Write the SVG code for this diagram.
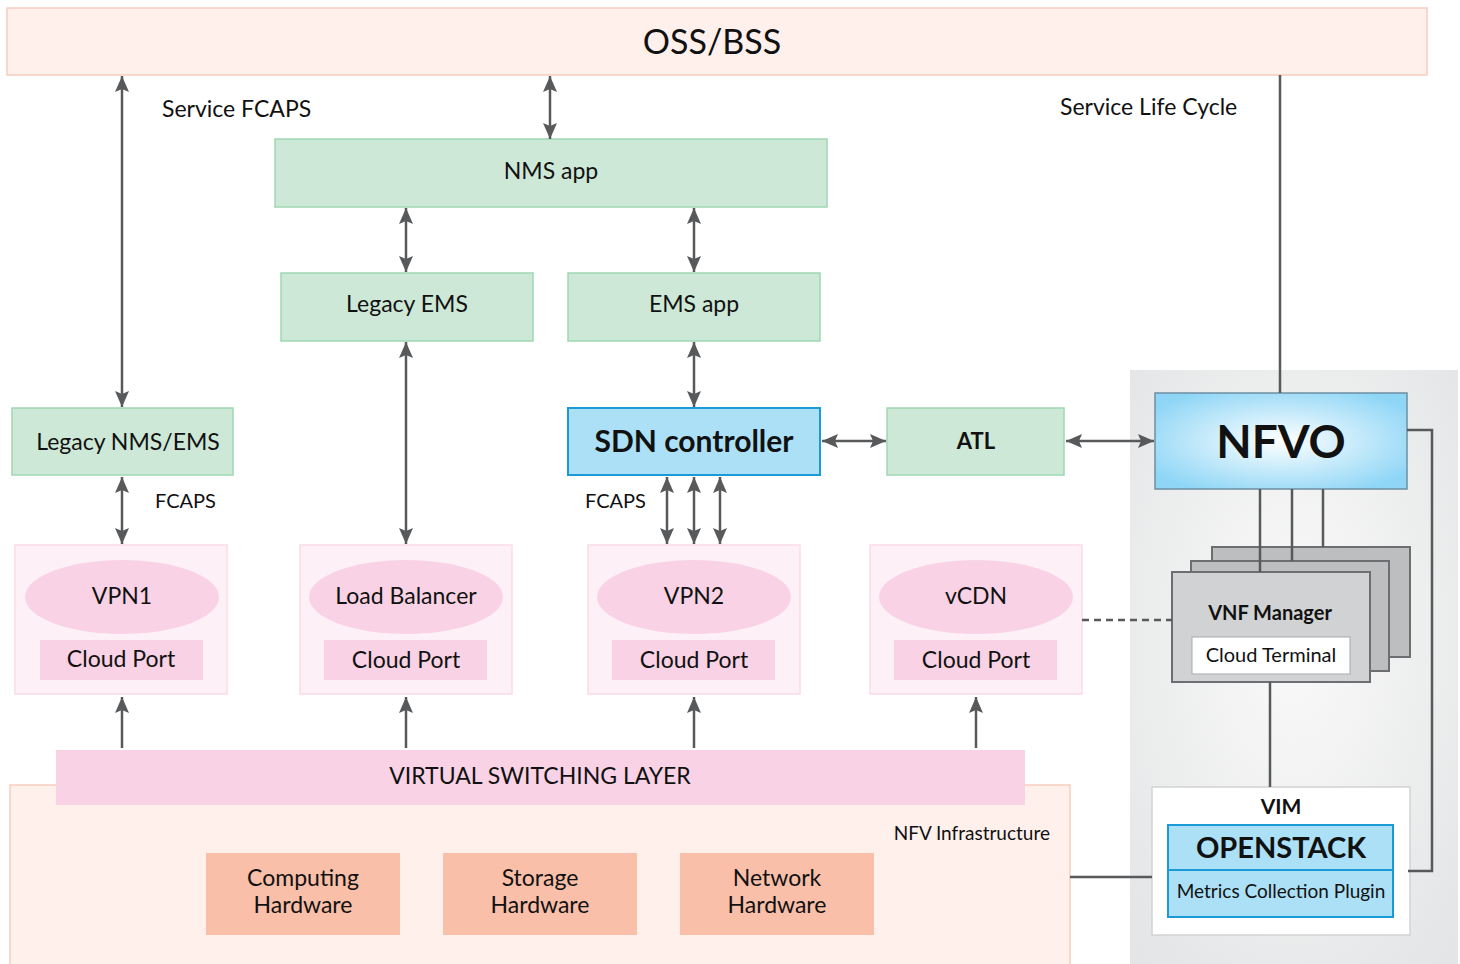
<svg xmlns="http://www.w3.org/2000/svg" width="1460" height="964" viewBox="0 0 1460 964">
<defs>
<marker id="ah" viewBox="0 0 16 14" refX="16" refY="7" markerWidth="16" markerHeight="14" markerUnits="userSpaceOnUse" orient="auto-start-reverse">
<path d="M0,0 L16,7 L0,14 L3,7 z" fill="#58595b"/>
</marker>
<radialGradient id="gpanel" cx="0.5" cy="0.45" r="0.7">
<stop offset="0" stop-color="#fafafa"/>
<stop offset="1" stop-color="#e4e5e6"/>
</radialGradient>
<radialGradient id="gnfvo" cx="0.5" cy="0.5" r="0.6">
<stop offset="0" stop-color="#ffffff"/>
<stop offset="1" stop-color="#8fd6f6"/>
</radialGradient>
</defs>
<style>
text{font-family:Lato,"Open Sans","Liberation Sans",sans-serif;fill:#111;text-anchor:middle;dominant-baseline:central;transform:translateY(-2px)}
.salmon{fill:#fff0ec;stroke:#f9cdbf;stroke-width:1.5}
.green{fill:#cde8d6;stroke:#9fd8b2;stroke-width:1.5}
.blue{fill:#abe0f7;stroke:#1b9ad8;stroke-width:2}
.pinkbox{fill:#fdf0f6;stroke:#fbdbe9;stroke-width:1.5}
.pink{fill:#f9d3e5}
.hw{fill:#fabfa9}
.gray{stroke:#6d6e71;stroke-width:2}
.ln{stroke:#58595b;stroke-width:2.5;fill:none}
.t24{font-size:23px}
.b{font-weight:bold}
</style>
<rect x="1130" y="370" width="328" height="594" fill="url(#gpanel)"/>
<g id="oss"><rect class="salmon" x="7" y="8" width="1420" height="67"/><text x="712" y="42" font-size="34">OSS/BSS</text></g>
<g id="nfvi"><rect class="salmon" x="10" y="785" width="1060" height="185"/><text x="1050" y="834" font-size="19" style="text-anchor:end">NFV Infrastructure</text></g>
<g id="vsl"><rect class="pink" x="56" y="750" width="969" height="55"/><text class="t24" x="540" y="777">VIRTUAL SWITCHING LAYER</text></g>
<g id="computing"><rect class="hw" x="206" y="853" width="194" height="82"/><text class="t24" x="303" y="879">Computing</text><text class="t24" x="303" y="906">Hardware</text></g>
<g id="storage"><rect class="hw" x="443" y="853" width="194" height="82"/><text class="t24" x="540" y="879">Storage</text><text class="t24" x="540" y="906">Hardware</text></g>
<g id="network"><rect class="hw" x="680" y="853" width="194" height="82"/><text class="t24" x="777" y="879">Network</text><text class="t24" x="777" y="906">Hardware</text></g>
<g id="nms"><rect class="green" x="275" y="139" width="552" height="68"/><text class="t24" x="551" y="172">NMS app</text></g>
<g id="legacyems"><rect class="green" x="281" y="273" width="252" height="68"/><text class="t24" x="407" y="305">Legacy EMS</text></g>
<g id="emsapp"><rect class="green" x="568" y="273" width="252" height="68"/><text class="t24" x="694" y="305">EMS app</text></g>
<g id="legacynms"><rect class="green" x="12" y="408" width="221" height="67"/><text class="t24" x="128" y="443">Legacy NMS/EMS</text></g>
<g id="sdn"><rect class="blue" x="568" y="408" width="252" height="67"/><text class="b" x="694" y="442" font-size="30">SDN controller</text></g>
<g id="atl"><rect class="green" x="887" y="408" width="177" height="67"/><text class="b" x="976" y="442" font-size="22">ATL</text></g>
<g id="nfvo"><rect x="1155" y="393" width="252" height="96" fill="url(#gnfvo)" stroke="#6d8fa3" stroke-width="1.5"/><text class="b" x="1281" y="442" font-size="46">NFVO</text></g>
<g id="vpn1"><rect class="pinkbox" x="15" y="545" width="212" height="149"/><ellipse class="pink" cx="122" cy="597" rx="97" ry="37"/><text class="t24" x="122" y="597">VPN1</text><rect class="pink" x="40" y="640" width="163" height="40"/><text class="t24" x="121" y="660">Cloud Port</text></g>
<g id="lb"><rect class="pinkbox" x="300" y="545" width="212" height="149"/><ellipse class="pink" cx="406" cy="597" rx="97" ry="37"/><text class="t24" x="406" y="597">Load Balancer</text><rect class="pink" x="324" y="640" width="163" height="40"/><text class="t24" x="406" y="661">Cloud Port</text></g>
<g id="vpn2"><rect class="pinkbox" x="588" y="545" width="212" height="149"/><ellipse class="pink" cx="694" cy="597" rx="97" ry="37"/><text class="t24" x="694" y="597">VPN2</text><rect class="pink" x="612" y="640" width="163" height="40"/><text class="t24" x="694" y="661">Cloud Port</text></g>
<g id="vcdn"><rect class="pinkbox" x="870" y="545" width="212" height="149"/><ellipse class="pink" cx="976" cy="597" rx="97" ry="37"/><text class="t24" x="976" y="597">vCDN</text><rect class="pink" x="894" y="640" width="163" height="40"/><text class="t24" x="976" y="661">Cloud Port</text></g>
<g id="vnfm">
<rect class="gray" x="1212" y="547" width="198" height="110" fill="#bcbec0"/>
<rect class="gray" x="1191" y="561" width="198" height="110" fill="#bcbec0"/>
<rect class="gray" x="1172" y="572" width="198" height="110" fill="#d1d2d4"/>
<text class="b" x="1270" y="614" font-size="20">VNF Manager</text>
<rect x="1192" y="637" width="158" height="37" fill="#fff" stroke="#a7a9ac" stroke-width="1"/>
<text x="1271" y="656" font-size="20">Cloud Terminal</text>
</g>
<g id="vim">
<rect x="1152" y="787" width="258" height="148" fill="#fff" stroke="#d1d3d4" stroke-width="1.5"/>
<text class="b" x="1281" y="807" font-size="21">VIM</text>
<rect class="blue" x="1168" y="825" width="225" height="92"/>
<line x1="1168" y1="870" x2="1393" y2="870" stroke="#1b9ad8" stroke-width="2"/>
<text class="b" x="1281" y="848" font-size="29">OPENSTACK</text>
<text x="1281" y="892" font-size="19">Metrics Collection Plugin</text>
</g>
<g id="connectors">
<line class="ln" x1="122" y1="76" x2="122" y2="407" marker-start="url(#ah)" marker-end="url(#ah)"/>
<line class="ln" x1="550" y1="76" x2="550" y2="139" marker-start="url(#ah)" marker-end="url(#ah)"/>
<line class="ln" x1="406" y1="208" x2="406" y2="272" marker-start="url(#ah)" marker-end="url(#ah)"/>
<line class="ln" x1="694" y1="208" x2="694" y2="272" marker-start="url(#ah)" marker-end="url(#ah)"/>
<line class="ln" x1="694" y1="342" x2="694" y2="407" marker-start="url(#ah)" marker-end="url(#ah)"/>
<line class="ln" x1="406" y1="342" x2="406" y2="544" marker-start="url(#ah)" marker-end="url(#ah)"/>
<line class="ln" x1="122" y1="477" x2="122" y2="544" marker-start="url(#ah)" marker-end="url(#ah)"/>
<line class="ln" x1="667" y1="477" x2="667" y2="544" marker-start="url(#ah)" marker-end="url(#ah)"/>
<line class="ln" x1="694" y1="477" x2="694" y2="544" marker-start="url(#ah)" marker-end="url(#ah)"/>
<line class="ln" x1="720" y1="477" x2="720" y2="544" marker-start="url(#ah)" marker-end="url(#ah)"/>
<line class="ln" x1="822" y1="441" x2="886" y2="441" marker-start="url(#ah)" marker-end="url(#ah)"/>
<line class="ln" x1="1066" y1="441" x2="1154" y2="441" marker-start="url(#ah)" marker-end="url(#ah)"/>
<line class="ln" x1="122" y1="748" x2="122" y2="697" marker-end="url(#ah)"/>
<line class="ln" x1="406" y1="748" x2="406" y2="697" marker-end="url(#ah)"/>
<line class="ln" x1="694" y1="748" x2="694" y2="697" marker-end="url(#ah)"/>
<line class="ln" x1="976" y1="748" x2="976" y2="697" marker-end="url(#ah)"/>
<line class="ln" x1="1280" y1="75" x2="1280" y2="393"/>
<line class="ln" x1="1260" y1="489" x2="1260" y2="572"/>
<line class="ln" x1="1292" y1="489" x2="1292" y2="561"/>
<line class="ln" x1="1323" y1="489" x2="1323" y2="547"/>
<line class="ln" x1="1270" y1="682" x2="1270" y2="787"/>
<polyline class="ln" points="1407,430 1432,430 1432,871 1408,871"/>
<line class="ln" x1="1070" y1="877" x2="1152" y2="877"/>
<line class="ln" x1="1082" y1="620" x2="1172" y2="620" stroke-dasharray="7,5"/>
</g>
<text class="t24" x="162" y="110" style="text-anchor:start">Service FCAPS</text>
<text class="t24" x="1060" y="108" style="text-anchor:start">Service Life Cycle</text>
<text x="155" y="502" font-size="20" style="text-anchor:start">FCAPS</text>
<text x="585" y="502" font-size="20" style="text-anchor:start">FCAPS</text>
</svg>
